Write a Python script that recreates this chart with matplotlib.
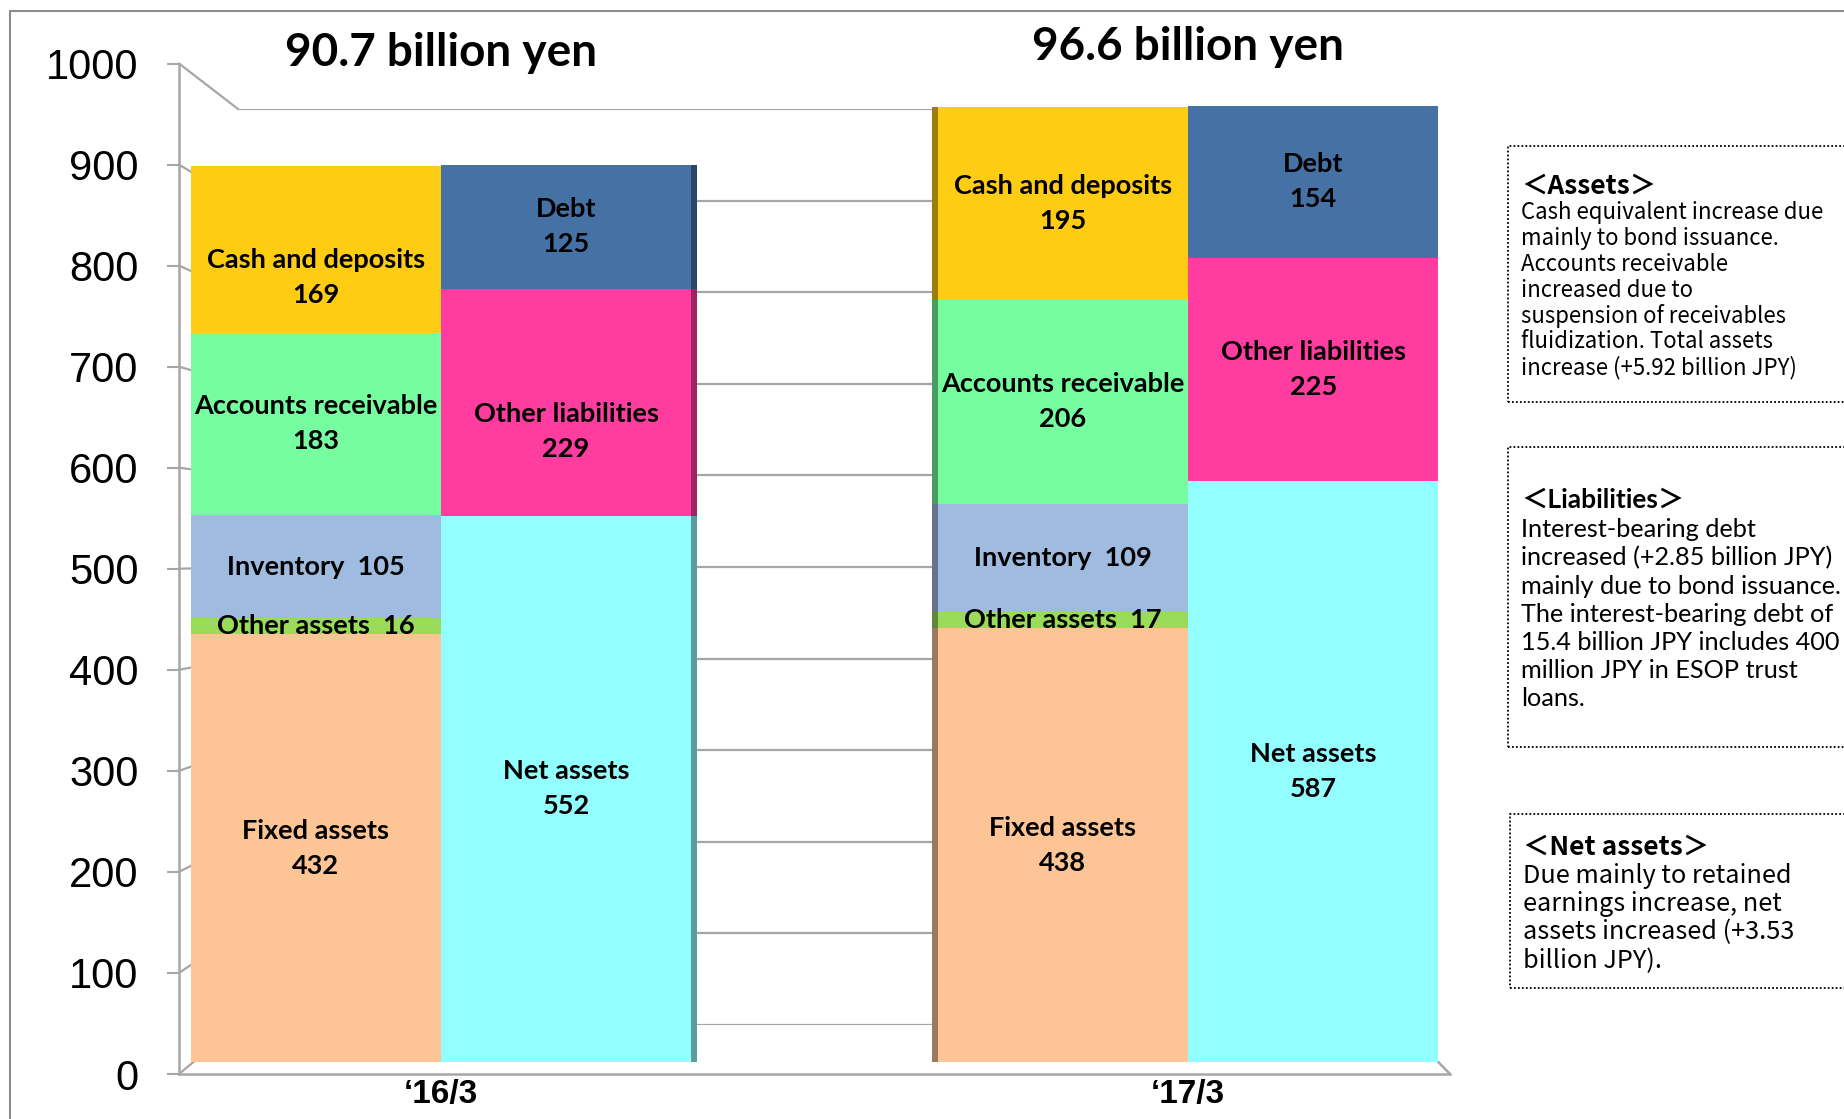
"""
Balance sheet comparison, '16/3 vs '17/3 (pseudo 3D stacked columns)
"""

import matplotlib
matplotlib.use("Agg")
import matplotlib.pyplot as plt
import matplotlib.colors as clr
import matplotlib.transforms as mtrans
from matplotlib.patches import Rectangle, ConnectionPatch

# Data
periods = ["\u201816/3", "\u201817/3"]
totals = ["90.7 billion yen", "96.6 billion yen"]

asset_items = ["Fixed assets", "Other assets", "Inventory", "Accounts receivable", "Cash and deposits"]
assets_16 = [432, 16, 105, 183, 169]
assets_17 = [438, 17, 109, 206, 195]
asset_colors = ["#FDC595", "#9ADB5A", "#9FBBE0", "#76FDA0", "#FECC12"]

liab_items = ["Net assets", "Other liabilities", "Debt"]
liab_16 = [552, 229, 125]
liab_17 = [587, 225, 154]
liab_colors = ["#92FEFF", "#FF3C9F", "#4571A5"]

# items written on one line inside the bar
one_line = ["Other assets", "Inventory"]

notes = [
    ("\uff1cAssets\uff1e",
     ["Cash equivalent increase due", "mainly to bond issuance.", "Accounts receivable",
      "increased due to", "suspension of receivables", "fluidization. Total assets",
      "increase (+5.92 billion JPY)"]),
    ("\uff1cLiabilities\uff1e",
     ["Interest-bearing debt", "increased (+2.85 billion JPY)", "mainly due to bond issuance.",
      "The interest-bearing debt of", "15.4 billion JPY includes 400", "million JPY in ESOP trust",
      "loans."]),
    ("\uff1cNet assets\uff1e",
     ["Due mainly to retained", "earnings increase, net", "assets increased (+3.53",
      "billion JPY)."]),
]

W, H = 1844, 1119


def px_rect(x0, y0, x1, y1):
    # pixel box (top-left origin) -> figure fraction rect
    return [x0 / W, 1 - y1 / H, (x1 - x0) / W, (y1 - y0) / H]


def darker(c, f=0.62):
    r, g, b = clr.to_rgb(c)
    return (r * f, g * f, b * f)


fig = plt.figure(figsize=(W / 100, H / 100), dpi=100)

# Outer chart frame
fig.add_artist(Rectangle((10 / W, -0.1), 1.2, 1.1 - 11 / H, transform=fig.transFigure,
                         fill=False, edgecolor="#8C8C8C", lw=1.5, zorder=-1))

grid_grey = "#A6A6A6"
ticks = list(range(0, 1001, 100))

# Back wall with gridlines
ax_back = fig.add_axes(px_rect(238, 109, 1437, 1025), zorder=0)
ax_back.set_ylim(0, 1000)
ax_back.set_yticks(ticks)
ax_back.set_xticks([])
ax_back.tick_params(left=False, labelleft=False)
ax_back.yaxis.grid(True, color=grid_grey, lw=1.6)
for s in ax_back.spines.values():
    s.set_visible(False)

# Front axis carrying the value ticks
ax_tick = fig.add_axes(px_rect(179, 63.5, 1450, 1074), zorder=0.6)
ax_tick.set_facecolor("none")
ax_tick.set_ylim(0, 1000)
ax_tick.set_yticks(ticks)
ax_tick.set_xticks([])
ax_tick.tick_params(axis="y", direction="out", length=9, width=1.5, color=grid_grey,
                    pad=20, labelsize=30)
for lab in ax_tick.get_yticklabels():
    lab.set_fontfamily("Liberation Sans")
for side in ["top", "right"]:
    ax_tick.spines[side].set_visible(False)
for side in ["left", "bottom"]:
    ax_tick.spines[side].set_color(grid_grey)
    ax_tick.spines[side].set_linewidth(1.8)

# Side wall lines joining the front ticks to the back wall
for v in ticks:
    con = ConnectionPatch(xyA=(0, v), coordsA=ax_tick.get_yaxis_transform(),
                          xyB=(0, v), coordsB=ax_back.get_yaxis_transform(),
                          color=grid_grey, lw=1.6, zorder=0.5)
    fig.add_artist(con)

# Bars
ax = fig.add_axes(px_rect(179, 72, 1447, 1062), zorder=1)
ax.set_facecolor("none")
ax.set_ylim(0, 1000)
ax.set_xlim(-0.3507, 1.3467)
for s in ax.spines.values():
    s.set_visible(False)
ax.set_yticks([])
ax.set_xticks([0, 1], periods)
ax.tick_params(axis="x", length=0, pad=12)
for lab in ax.get_xticklabels():
    lab.set_fontfamily("Liberation Sans")
    lab.set_fontweight("bold")
    lab.set_fontsize(24)

bar_w = 0.335
side_w = 0.008
label_font = dict(family="Lato", weight="bold", fontsize=19.5, ha="center", va="center",
                  linespacing=1.55)
# a few labels sit a little lower than the middle of their block
label_nudge = {(0, "Cash and deposits"): -28, (0, "Other liabilities"): -30}

# floor edge at the right-hand side
fig.add_artist(ConnectionPatch(xyA=(1 + bar_w, 0), coordsA=ax.transData,
                               xyB=(1, 0), coordsB=ax_tick.transAxes,
                               color=grid_grey, lw=1.8, zorder=0.5))


def stack(i, x, values, items, colors, side=0):
    bottom = 0
    for val, item, col in zip(values, items, colors):
        ax.bar(x, val, width=bar_w, bottom=bottom, color=col, edgecolor="none")
        if side:
            # thin shaded side face of the column
            sx = x + side * (bar_w + side_w) / 2
            ax.bar(sx, val, width=side_w, bottom=bottom, color=darker(col), edgecolor="none")
        if item in one_line:
            txt = f"{item}  {val}"
        else:
            txt = f"{item}\n{val}"
        ax.text(x, bottom + val / 2 + label_nudge.get((i, item), 0), txt, **label_font)
        bottom += val


stack(0, 0 - bar_w / 2, assets_16, asset_items, asset_colors)
stack(0, 0 + bar_w / 2, liab_16, liab_items, liab_colors, side=1)
stack(1, 1 - bar_w / 2, assets_17, asset_items, asset_colors, side=-1)
stack(1, 1 + bar_w / 2, liab_17, liab_items, liab_colors)

# Totals above each pair of columns
title_tr = mtrans.blended_transform_factory(ax.transData, fig.transFigure)
for i, t in enumerate(totals):
    ax.text(i, 1 - (53 - 6 * i) / H, t, transform=title_tr, ha="center", va="center",
            family="Lato", weight="bold", fontsize=33)

# Comment boxes on the right
boxes = [(1508, 146, 402), (1508, 447, 747), (1510, 814, 988)]
note_fonts = [["Noto Sans CJK JP"], ["Lato", "Noto Sans CJK JP"], ["Noto Sans CJK JP"]]
head_y = [186, 500, 847]
body_y = [213, 530, 876]
body_step = [25.7, 28.1, 28.2]
body_size = [16, 18.2, 18.2]
for k, ((x0, y0, y1), (head, body)) in enumerate(zip(boxes, notes)):
    fig.add_artist(Rectangle((x0 / W, 1 - y1 / H), 0.2, (y1 - y0) / H, transform=fig.transFigure,
                             fill=False, edgecolor="black", lw=1.3, linestyle=(0, (1, 1.2)),
                             zorder=3))
    fig.text((x0 + 13) / W, 1 - head_y[k] / H, head, family=note_fonts[k], weight="bold",
             fontsize=19, va="center", ha="left")
    for j, line in enumerate(body):
        fig.text((x0 + 13) / W, 1 - (body_y[k] + j * body_step[k]) / H, line,
                 family=note_fonts[k], fontsize=body_size[k], va="center", ha="left")

fig.savefig("out.png", dpi=100)
